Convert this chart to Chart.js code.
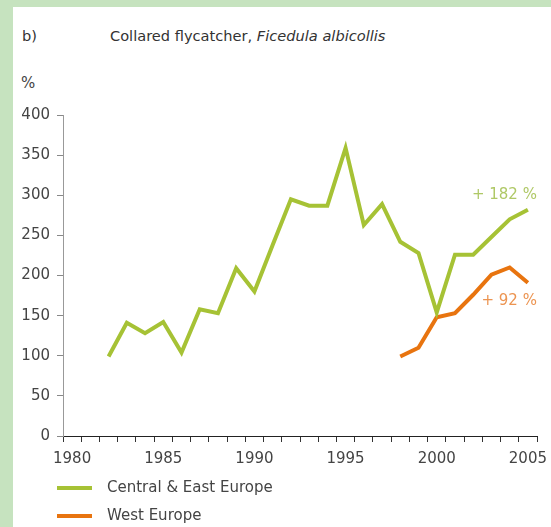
<!DOCTYPE html>
<html>
<head>
<meta charset="utf-8">
<script src="https://cdn.jsdelivr.net/npm/chart.js@4/dist/chart.umd.min.js"></script>
<style>
  html, body { margin: 0; padding: 0; }
  body { width: 551px; height: 527px; background: #c6e3bf; position: relative; overflow: hidden;
         font-family: "DejaVu Sans", Verdana, sans-serif; }
  #panel { position: absolute; left: 13px; top: 7px; right: 0; bottom: 0; background: #ffffff; }
  #chart { position: absolute; left: 0; top: 0; }
  .txt { position: absolute; font-size: 15px; color: #333; white-space: nowrap; line-height: 18px; }
  .leg { position: absolute; left: 57px; width: 35px; height: 4px; }
</style>
</head>
<body>
<div id="panel"></div>
<div class="txt" style="left:22px; top:27px; font-size:14.6px;">b)</div>
<div class="txt" style="left:110px; top:27px; font-size:14.6px;">Collared flycatcher, <i>Ficedula albicollis</i></div>
<div class="txt" style="left:21px; top:74px; color:#444;">%</div>
<canvas id="chart" width="551" height="527"></canvas>
<div class="leg" style="top:486px; background:#a6c235;"></div>
<div class="txt" style="left:107px; top:478px; color:#444;">Central &amp; East Europe</div>
<div class="leg" style="top:514px; background:#e8740f;"></div>
<div class="txt" style="left:107px; top:506px; color:#444;">West Europe</div>
<script>
const years = [1980,1981,1982,1983,1984,1985,1986,1987,1988,1989,1990,1991,1992,1993,1994,1995,1996,1997,1998,1999,2000,2001,2002,2003,2004,2005];
const centralEast = [null,null,99,141,128,142,104,158,153,209,180,238,295,287,287,359,263,289,242,228,154,226,226,248,270,282];
const westEurope = [null,null,null,null,null,null,null,null,null,null,null,null,null,null,null,null,null,null,99,110,148,153,176,201,210,191];
const yTicks = [0,50,100,150,200,250,300,350,400];
const changeLabels = ['+ 182 %', '+ 92 %'];

const GREEN = '#a6c235', ORANGE = '#e8740f';

const endLabels = {
  id: 'endLabels',
  afterDatasetsDraw(chart) {
    const ctx = chart.ctx;
    const x = chart.scales.x, y = chart.scales.y;
    const last = years.length - 1;
    ctx.save();
    ctx.font = '15px "DejaVu Sans", Verdana, sans-serif';
    ctx.textAlign = 'right';
    ctx.textBaseline = 'middle';
    ctx.fillStyle = '#afc866';
    ctx.fillText(changeLabels[0], x.getPixelForValue(last) + 9, y.getPixelForValue(centralEast[last]) - 15);
    ctx.fillStyle = '#ec9451';
    ctx.fillText(changeLabels[1], x.getPixelForValue(last) + 9, y.getPixelForValue(westEurope[last]) + 18);
    ctx.restore();
  }
};

new Chart(document.getElementById('chart'), {
  type: 'line',
  data: {
    labels: years.map(String),
    datasets: [
      { label: 'Central & East Europe', data: centralEast, borderColor: GREEN, borderWidth: 4,
        pointRadius: 0, tension: 0, spanGaps: false, borderJoinStyle: 'miter', borderCapStyle: 'butt' },
      { label: 'West Europe', data: westEurope, borderColor: ORANGE, borderWidth: 4,
        pointRadius: 0, tension: 0, spanGaps: false, borderJoinStyle: 'miter', borderCapStyle: 'butt' }
    ]
  },
  options: {
    responsive: false,
    animation: false,
    events: [],
    layout: { padding: { left: 0, top: 115, right: 14, bottom: 51 } },
    plugins: { legend: { display: false }, tooltip: { enabled: false }, title: { display: false } },
    scales: {
      x: {
        type: 'category',
        offset: true,
        grid: { offset: true, drawOnChartArea: false, drawTicks: true, tickLength: 6, color: '#333', lineWidth: 1 },
        border: { display: true, color: '#222', width: 1 },
        ticks: {
          autoSkip: false, maxRotation: 0, padding: 8, color: '#444',
          font: { family: '"DejaVu Sans", Verdana, sans-serif', size: 15 },
          callback: function(v, i) { return years[i] % 5 === 0 ? String(years[i]) : ''; }
        },
        afterFit(scale) { scale.height = 40; scale.paddingLeft = 0; scale.paddingRight = 0; }
      },
      y: {
        min: 0, max: 400,
        afterBuildTicks(scale) { scale.ticks = yTicks.map(v => ({ value: v })); },
        grid: { drawOnChartArea: false, drawTicks: true, tickLength: 6, color: '#888', lineWidth: 1 },
        border: { display: true, color: '#999', width: 1 },
        ticks: { padding: 7, color: '#444', font: { family: '"DejaVu Sans", Verdana, sans-serif', size: 15 } },
        afterFit(scale) { scale.width = 63; scale.paddingTop = 0; scale.paddingBottom = 0; }
      }
    }
  },
  plugins: [endLabels]
});
</script>
</body>
</html>
